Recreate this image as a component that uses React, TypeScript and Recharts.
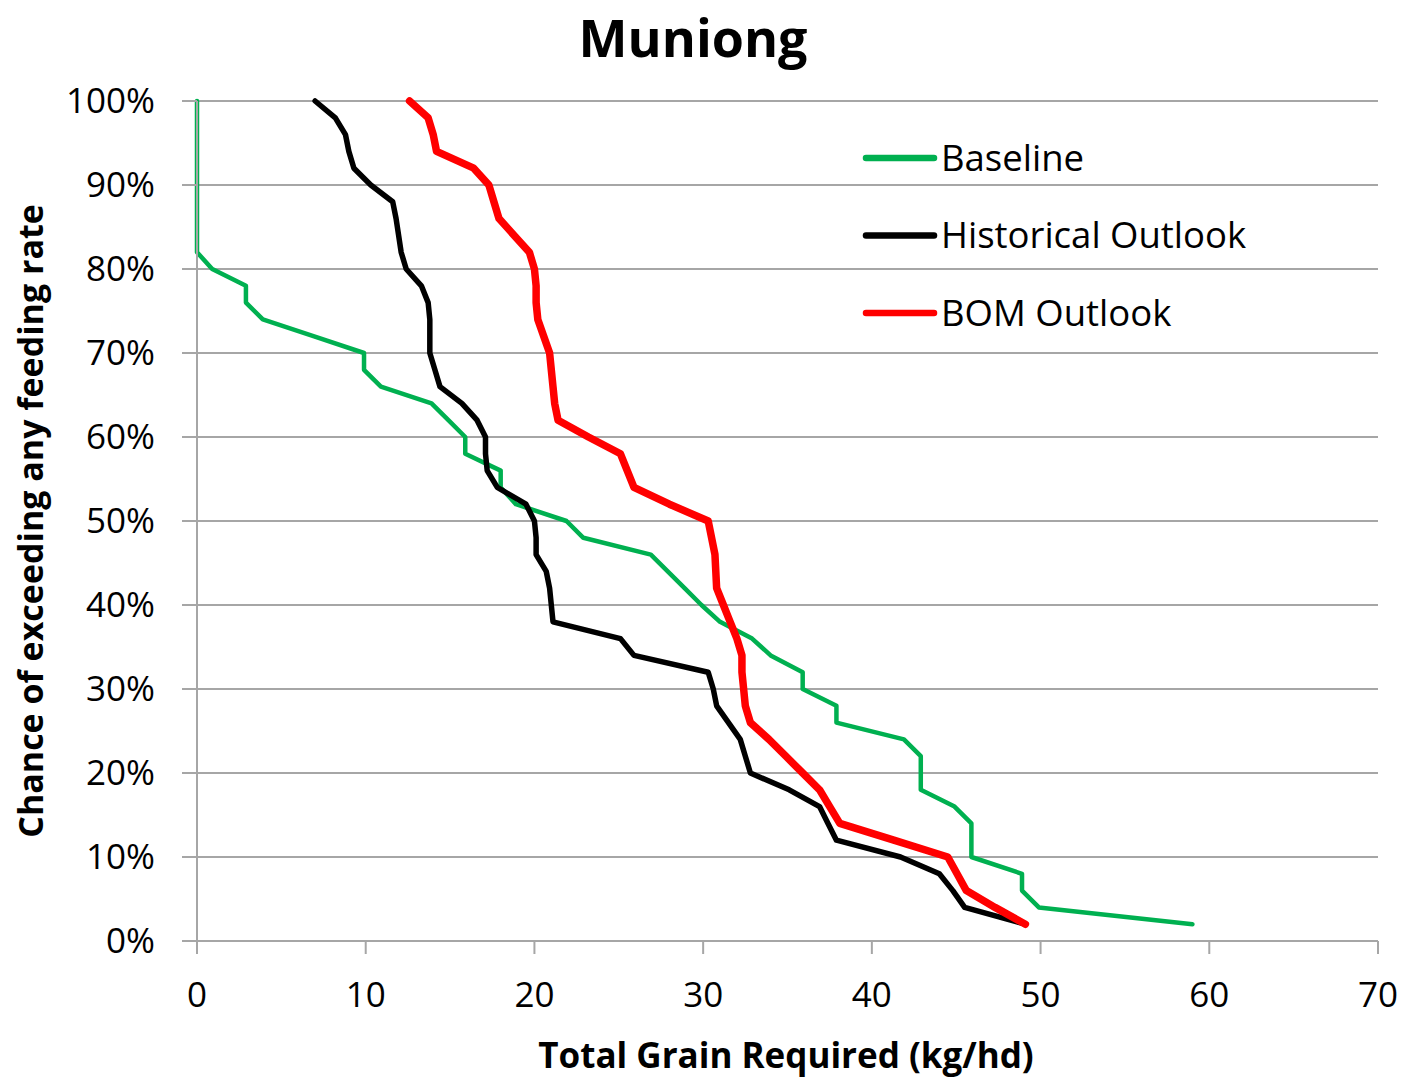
import React from "react";
import { LineChart, Line, XAxis, YAxis, CartesianGrid, Legend } from "recharts";

// exceedance levels (%) shared by all three curves
const pctLevels = [
  100, 98, 96, 94, 92, 90, 88, 86, 84, 82, 80, 78, 76, 74, 72, 70, 68, 66, 64, 62,
  60, 58, 56, 54, 52, 50, 48, 46, 44, 42, 40, 38, 36, 34, 32, 30, 28, 26, 24, 22,
  20, 18, 16, 14, 12, 10, 8, 6, 4, 2,
];

// total grain required (kg/hd) at each level
const baselineKg = [
  0, 0, 0, 0, 0, 0, 0, 0, 0, 0, 0.9, 2.9, 2.9, 3.9, 6.9, 9.9, 9.9, 10.9, 13.9, 14.9,
  15.9, 15.9, 18, 18, 18.9, 21.9, 22.9, 26.9, 27.9, 28.9, 29.9, 31, 32.9, 34, 35.9, 35.9, 37.9, 37.9, 41.9, 42.9,
  42.9, 42.9, 44.9, 45.9, 45.9, 45.9, 48.9, 48.9, 49.9, 59,
];
const historicalKg = [
  7, 8.2, 8.8, 9.0, 9.3, 10.3, 11.6, 11.8, 11.95, 12.1, 12.4, 13.3, 13.7, 13.8, 13.8, 13.8, 14.1, 14.4, 15.7, 16.6,
  17.1, 17.1, 17.2, 17.8, 19.5, 20.0, 20.1, 20.1, 20.7, 20.9, 21.0, 21.1, 25.1, 25.9, 30.3, 30.6, 30.8, 31.5, 32.2, 32.5,
  32.8, 35.1, 36.9, 37.4, 37.9, 41.7, 44.0, 44.8, 45.5, 49.1,
];
const bomKg = [
  12.6, 13.7, 14.0, 14.2, 16.4, 17.3, 17.6, 17.9, 18.8, 19.7, 20.0, 20.1, 20.1, 20.2, 20.55, 20.9, 21.0, 21.1, 21.2, 21.4,
  23.2, 25.1, 25.5, 25.9, 28.0, 30.3, 30.5, 30.7, 30.75, 30.8, 31.2, 31.6, 32.0, 32.3, 32.3, 32.4, 32.5, 32.8, 33.9, 34.9,
  35.9, 36.9, 37.5, 38.1, 41.3, 44.5, 45.05, 45.6, 47.3, 49.1,
];

const xTicks = [0, 10, 20, 30, 40, 50, 60, 70];
const yTicks = [0, 10, 20, 30, 40, 50, 60, 70, 80, 90, 100];

const series = [
  { name: "Baseline", values: baselineKg, color: "#00B050", width: 4.5 },
  { name: "Historical Outlook", values: historicalKg, color: "#000000", width: 5.5 },
  { name: "BOM Outlook", values: bomKg, color: "#FF0000", width: 7.5 },
];

const FONT = "'Open Sans', sans-serif";
const GRID = "#A6A6A6";

function toPoints(values: number[]) {
  return pctLevels.map((p, i) => ({ x: values[i], p }));
}

function LegendBox() {
  return (
    <svg width={440} height={240} style={{ display: "block" }}>
      {series.map((s, i) => {
        const y = 50 + i * 77.5;
        return (
          <g key={s.name}>
            <line x1={6} x2={74} y1={y} y2={y} stroke={s.color} strokeWidth={6.5} strokeLinecap="round" />
            <text x={81} y={y + 12.5} fontFamily={FONT} fontSize={36.5} fill="#000">
              {s.name}
            </text>
          </g>
        );
      })}
    </svg>
  );
}

export default function App() {
  const tick = { fontFamily: FONT, fontSize: 35, fill: "#000" };
  return (
    <div style={{ position: "relative", width: 1400, height: 1070, background: "#fff" }}>
      <LineChart width={1400} height={1070} margin={{ top: 93, right: 30, bottom: 0, left: 0 }}>
        <CartesianGrid vertical={false} stroke={GRID} strokeWidth={2} />
        <XAxis
          type="number"
          dataKey="x"
          domain={[0, 70]}
          ticks={xTicks}
          interval={0}
          height={137}
          tick={tick}
          tickSize={13}
          tickMargin={28}
          stroke={GRID}
          strokeWidth={2}
          tickLine={{ stroke: GRID, strokeWidth: 2 }}
        />
        <YAxis
          type="number"
          domain={[0, 100]}
          ticks={yTicks}
          interval={0}
          width={189}
          tick={tick}
          tickFormatter={(v: number) => `${v}%`}
          tickSize={15}
          tickMargin={27}
          stroke={GRID}
          strokeWidth={2}
          tickLine={{ stroke: GRID, strokeWidth: 2 }}
        />
        <Legend
          layout="vertical"
          align="center"
          verticalAlign="middle"
          content={() => <LegendBox />}
          wrapperStyle={{ left: 852, top: 100, width: 440, height: 240 }}
        />
        {series.map((s) => (
          <Line
            key={s.name}
            name={s.name}
            data={toPoints(s.values)}
            dataKey="p"
            type="linear"
            stroke={s.color}
            strokeWidth={s.width}
            strokeLinejoin="round"
            strokeLinecap="round"
            dot={false}
            activeDot={false}
            isAnimationActive={false}
          />
        ))}
      </LineChart>
      {/* titles, in page coordinates (overlay starts at the page corner) */}
      <svg
        width={1408}
        height={1078}
        style={{ position: "absolute", left: -8, top: -8, pointerEvents: "none" }}
      >
        <text x={693} y={57} textAnchor="middle" fontFamily={FONT} fontWeight={700} fontSize={52} fill="#000">
          Muniong
        </text>
        <text x={786} y={1068} textAnchor="middle" fontFamily={FONT} fontWeight={700} fontSize={35} fill="#000">
          Total Grain Required (kg/hd)
        </text>
        <text
          x={43}
          y={521}
          textAnchor="middle"
          transform="rotate(-90 43 521)"
          fontFamily={FONT}
          fontWeight={700}
          fontSize={34}
          fill="#000"
        >
          Chance of exceeding any feeding rate
        </text>
      </svg>
    </div>
  );
}
